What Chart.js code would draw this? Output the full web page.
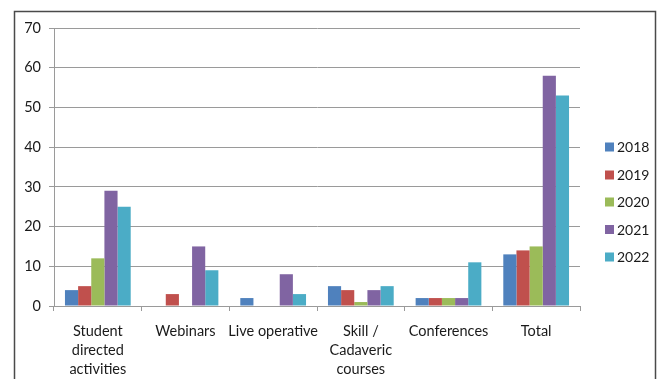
<!DOCTYPE html>
<html><head><meta charset="utf-8">
<script src="https://cdn.jsdelivr.net/npm/chart.js@4/dist/chart.umd.min.js"></script>
<style>html,body{margin:0;padding:0;background:#fff;}#wrap{width:660px;height:379px;position:relative;}</style>
</head><body><div id="wrap"><canvas id="c" width="660" height="379"></canvas></div>
<script>
const categories = [["Student","directed","activities"], "Webinars", "Live operative", ["Skill /","Cadaveric","courses"], "Conferences", "Total"];
const seriesNames = ["2018","2019","2020","2021","2022"];
const v2018 = [4, 0, 2, 5, 2, 13];
const v2019 = [5, 3, 0, 4, 2, 14];
const v2020 = [12, 0, 0, 1, 2, 15];
const v2021 = [29, 15, 8, 4, 2, 58];
const v2022 = [25, 9, 3, 5, 11, 53];
const colors = ["#4F81BD","#C0504D","#9BBB59","#8064A2","#4BACC6"];
const yTicks = [0,10,20,30,40,50,60,70];

const allValues = [v2018, v2019, v2020, v2021, v2022];
const FONT = "Lato, 'Liberation Sans', sans-serif";

const framePlugin = {
  id: 'frame',
  afterDraw(chart) {
    const ctx = chart.ctx;
    ctx.save();
    ctx.strokeStyle = '#4a4a4a';
    ctx.lineWidth = 1.5;
    ctx.strokeRect(14.5, 11.5, 641, 420);
    // legend
    ctx.font = '14px ' + FONT;
    ctx.textBaseline = 'middle';
    ctx.textAlign = 'left';
    const ys = [147, 175, 202, 229.5, 257];
    chart.data.datasets.forEach((ds, i) => {
      ctx.fillStyle = ds.backgroundColor;
      ctx.fillRect(605, ys[i] - 4.5, 9, 9);
      ctx.fillStyle = '#1a1a1a';
      ctx.fillText(ds.label, 617, ys[i] + 0.5);
    });
    ctx.restore();
  }
};

new Chart(document.getElementById('c'), {
  type: 'bar',
  data: {
    labels: categories,
    datasets: seriesNames.map((n, i) => ({
      label: n,
      data: allValues[i],
      backgroundColor: colors[i],
      borderWidth: 0,
      categoryPercentage: 0.75,
      barPercentage: 1.0
    }))
  },
  options: {
    responsive: false,
    animation: false,
    devicePixelRatio: 1,
    layout: { padding: { left: 0, right: 80, top: 28, bottom: 0 } },
    plugins: { legend: { display: false }, tooltip: { enabled: false } },
    scales: {
      x: {
        grid: { display: true, drawOnChartArea: false, drawTicks: true, tickLength: 5, offset: true, color: '#9a9a9a' },
        border: { display: true, color: '#9a9a9a', width: 1 },
        ticks: { color: '#1a1a1a', font: { family: FONT, size: 14.5, lineHeight: 1.31 }, padding: 11, maxRotation: 0, autoSkip: false },
        afterFit(s) { s.height = 73; }
      },
      y: {
        min: 0, max: 70,
        afterBuildTicks(s) { s.ticks = yTicks.map(v => ({ value: v })); },
        grid: { color: '#9a9a9a', tickLength: 5 },
        border: { display: true, color: '#9a9a9a', width: 1 },
        ticks: { color: '#1a1a1a', font: { family: FONT, size: 14.5 }, padding: 8 },
        afterFit(s) { s.width = 54; }
      }
    }
  },
  plugins: [framePlugin]
});
</script>
</body></html>
